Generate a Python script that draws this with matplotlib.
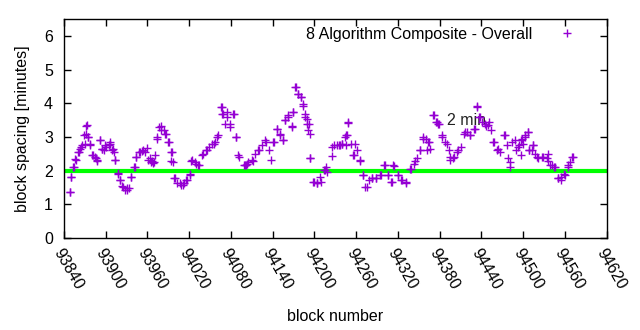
import matplotlib
matplotlib.use("Agg")
import matplotlib.pyplot as plt

# block spacing over blocks in two passes
blocks = [93849, 93850, 93853, 93856, 93861, 93865, 93870, 93871, 93873, 93875,
          93877, 93880, 93884, 93887, 93892, 93894, 93899, 93904, 93906, 93911,
          93914, 93918, 93920, 93925, 93930, 93933, 93937, 93942, 93944, 93949,
          93954, 93959, 93964, 93966, 93968, 93971, 93973, 93976, 93980, 93985,
          93990, 93994, 93995, 93999, 94007, 94011, 94016, 94021, 94023, 94028,
          94033, 94040, 94045, 94052, 94057, 94062, 94067, 94069, 94074, 94078,
          94083, 94087, 94090, 94100, 94102, 94105, 94112, 94119, 94129, 94141,
          94146, 94150, 94155, 94157, 94162, 94167, 94169, 94172, 94177, 94181,
          94184, 94186, 94189, 94191, 94193, 94198, 94203, 94208, 94215, 94217,
          94225, 94232, 94236, 94239, 94244, 94246, 94248, 94256, 94258, 94265,
          94270, 94275, 94282, 94289, 94294, 94301, 94306, 94311, 94313, 94320,
          94325, 94332, 94337, 94344, 94351, 94356, 94363, 94366, 94371, 94375,
          94378, 94383, 94390, 94395, 94399, 94406, 94416, 94423, 94430, 94433,
          94438, 94445, 94450, 94457, 94464, 94474, 94478, 94481, 94488, 94493,
          94497, 94497, 94500, 94502, 94507, 94509, 94512, 94514, 94517, 94521,
          94528, 94536, 94536, 94541, 94545, 94550, 94555, 94560, 94564, 94567,
          94571,
          93849, 93850, 93854, 93857, 93860, 93863, 93866, 93869, 93872, 93874,
          93877, 93881, 93886, 93888, 93892, 93894, 93897, 93901, 93906, 93909,
          93912, 93914, 93918, 93920, 93924, 93928, 93931, 93936, 93941, 93943,
          93948, 93952, 93957, 93961, 93965, 93969, 93973, 93979, 93984, 93986,
          93991, 93994, 93996, 93998, 94003, 94008, 94012, 94017, 94021, 94024,
          94029, 94034, 94039, 94044, 94048, 94055, 94060, 94065, 94067, 94074,
          94072, 94079, 94084, 94087, 94091, 94099,
          94103, 94110, 94115, 94120, 94125, 94130, 94134, 94137, 94142, 94146,
          94151, 94155, 94158, 94162, 94167, 94169, 94173, 94176, 94180, 94184,
          94186, 94189, 94192, 94193, 94194, 94199, 94204, 94209, 94213, 94218,
          94225, 94228, 94235, 94240, 94245, 94247, 94248, 94252, 94257, 94261,
          94265, 94270, 94273, 94278, 94283, 94289, 94295, 94300, 94305, 94310,
          94314, 94320, 94326, 94332, 94338, 94343, 94348, 94352, 94356,
          94360, 94364, 94362, 94372, 94376, 94379, 94383, 94388, 94393, 94395,
          94400, 94405, 94410, 94415, 94419, 94424, 94429, 94433, 94436, 94441,
          94446, 94451, 94453, 94458, 94462, 94466, 94472, 94477, 94481, 94484,
          94489, 94494, 94498, 94503, 94507, 94509, 94514, 94520, 94527, 94534,
          94539, 94544, 94550, 94554, 94559, 94565, 94570]
spacing = [1.37, 1.80, 2.10, 2.34, 2.55, 2.70, 2.80, 3.08, 3.35, 3.00,
           2.80, 2.45, 2.40, 2.30, 2.90, 2.65, 2.75, 2.75, 2.85, 2.65,
           2.33, 1.92, 1.72, 1.52, 1.42, 1.47, 1.81, 2.10, 2.40, 2.55,
           2.60, 2.66, 2.37, 2.30, 2.22, 2.45, 2.95, 3.30, 3.20, 3.10,
           2.85, 2.30, 2.55, 1.77, 1.62, 1.57, 1.72, 1.91, 2.30, 2.26,
           2.16, 2.50, 2.60, 2.80, 2.85, 3.05, 3.88, 3.69, 3.59, 3.39,
           3.69, 3.00, 2.45, 2.16, 2.16, 2.26, 2.30, 2.60, 2.90, 2.85,
           3.25, 3.10, 2.90, 3.49, 3.59, 3.29, 3.74, 4.48, 4.28, 4.18,
           3.99, 3.59, 3.39, 3.20, 2.36, 1.67, 1.62, 1.81, 2.01, 2.10,
           2.70, 2.75, 2.75, 2.80, 3.00, 3.05, 3.44, 2.45, 2.80, 2.30,
           1.86, 1.52, 1.77, 1.77, 1.86, 2.16, 1.86, 1.67, 2.16, 1.86,
           1.72, 1.62, 2.06, 2.30, 2.60, 2.95, 2.85, 2.65, 3.64, 3.44,
           3.39, 3.00, 2.80, 2.40, 2.36, 2.60, 3.15, 3.05, 3.25, 3.88,
           3.59, 3.39, 3.35, 2.85, 2.65, 3.05, 2.36, 2.10, 2.90, 2.70,
           2.90, 2.45, 2.80, 3.00, 3.15, 2.60, 2.60, 2.75, 2.50, 2.36,
           2.40, 2.50, 2.30, 2.16, 2.10, 1.77, 1.72, 1.86, 2.10, 2.26,
           2.40,
           1.37, 1.80, 2.11, 2.33, 2.55, 2.65, 2.75, 3.05, 3.34, 3.00,
           2.75, 2.46, 2.36, 2.31, 2.92, 2.65, 2.60, 2.70, 2.80, 2.60,
           2.55, 2.33, 1.91, 1.72, 1.54, 1.42, 1.47, 1.81, 2.11, 2.41,
           2.55, 2.58, 2.55, 2.31, 2.26, 2.26, 3.00, 3.34, 3.20, 3.10,
           2.85, 2.55, 2.26, 1.77, 1.62, 1.57, 1.62, 1.72, 1.86, 2.31,
           2.21, 2.16, 2.46, 2.60, 2.70, 2.80, 3.00, 3.88, 3.69, 3.74,
           3.39, 3.29, 3.69, 3.00, 2.41, 2.16,
           2.21, 2.31, 2.50, 2.60, 2.75, 2.85, 2.60, 2.31, 2.85, 3.25,
           3.05, 2.90, 3.49, 3.64, 3.34, 3.74, 4.48, 4.28, 4.18, 3.93,
           3.69, 3.54, 3.39, 3.10, 2.36, 1.67, 1.62, 1.67, 2.01, 1.96,
           2.43, 2.75, 2.75, 2.80, 2.75, 3.05, 3.42, 2.80, 2.46, 2.60,
           2.31, 1.86, 1.52, 1.72, 1.77, 1.77, 1.86, 2.16, 1.86, 1.67,
           2.13, 1.86, 1.72, 1.67, 2.06, 2.21, 2.36, 2.60, 3.00,
           2.95, 2.85, 2.60, 3.64, 3.44, 3.39, 3.05, 2.85, 2.60, 2.31,
           2.41, 2.55, 2.70, 3.10, 3.15, 3.05, 3.25, 3.93, 3.59, 3.44,
           3.34, 3.44, 3.20, 2.85, 2.60, 2.55, 3.05, 2.75, 2.26, 2.85,
           2.60, 2.75, 2.95, 3.05, 3.15, 2.60, 2.75, 2.41, 2.41, 2.36,
           2.16, 2.11, 1.77, 1.81, 1.91, 2.16, 2.41]
target = 2.0
xticks = list(range(93840, 94621, 60))
yticks = [0, 1, 2, 3, 4, 5, 6]

plt.rcParams['font.family'] = ['Liberation Sans', 'DejaVu Sans']
plt.rcParams['font.size'] = 11.5

fig = plt.figure(figsize=(6.4, 3.3), dpi=100)
ax = fig.add_axes([0.1, 0.279, 0.848, 0.663])

ax.axhline(target, color='#00ff00', lw=3, zorder=2)
ax.text(94390, 3.49, '2 min', va='center', ha='left', color='#222222', zorder=1)
ax.plot(blocks, spacing, '+', color='#9400d3', ms=6, mew=1, zorder=3,
        label='8 Algorithm Composite - Overall')

ax.set_xlim(93840, 94620)
ax.set_ylim(0, 6.5)
ax.set_xticks(xticks)
ax.set_yticks(yticks)
ax.set_xticklabels([str(t) for t in xticks], rotation=-60, ha='left', va='top',
                   rotation_mode='anchor')
ax.tick_params(direction='in', top=True, right=True, length=5, width=1, pad=6)
ax.tick_params(axis='y', pad=8)
for s in ax.spines.values():
    s.set_linewidth(1)

ax.set_xlabel('block number', labelpad=12)
ax.set_ylabel('block spacing [minutes]', labelpad=10)

ax.legend(loc='upper right', markerfirst=False, frameon=False,
          bbox_to_anchor=(0.983, 1.03), handletextpad=1.2, markerscale=1.0,
          fontsize=11.5)

fig.savefig('out.png', dpi=100)
